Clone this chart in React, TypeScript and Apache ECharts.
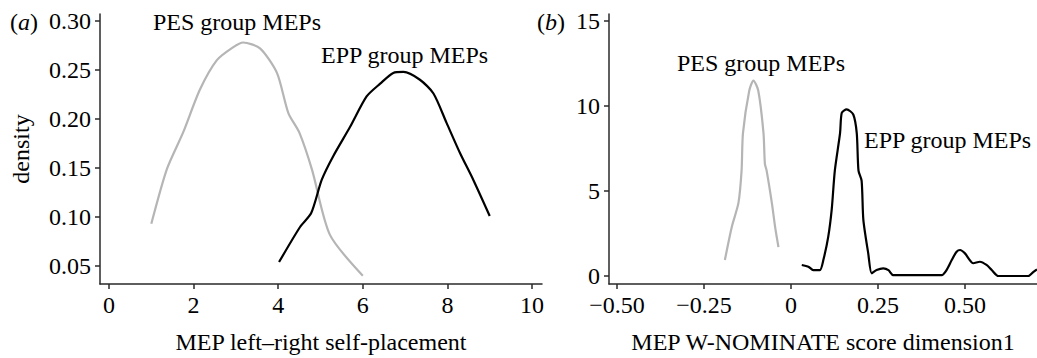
import React, { useEffect, useRef } from "react";
import * as echarts from "echarts";

// Panel (a): MEP left–right self-placement densities
const pesLeftX = [1.0, 1.37, 1.75, 2.15, 2.55, 2.93, 3.17, 3.57, 3.97, 4.24, 4.5, 4.8, 5.22, 6.0];
const pesLeftY = [0.093, 0.149, 0.186, 0.23, 0.26, 0.273, 0.278, 0.272, 0.247, 0.206, 0.186, 0.148, 0.082, 0.04];
const eppLeftX = [4.02, 4.52, 4.78, 5.03, 5.3, 5.7, 6.09, 6.41, 6.72, 6.96, 7.35, 7.67, 7.98, 8.3, 8.61, 9.0];
const eppLeftY = [0.054, 0.09, 0.104, 0.138, 0.162, 0.192, 0.223, 0.236, 0.247, 0.248, 0.24, 0.226, 0.196, 0.165, 0.138, 0.101];
const leftXTicks = [0, 2, 4, 6, 8, 10];
const leftYTicks = [0.05, 0.1, 0.15, 0.2, 0.25, 0.3];

// Panel (b): MEP W-NOMINATE score dimension 1 densities
const pesRightX = [-0.19, -0.17, -0.151, -0.142, -0.138, -0.12, -0.108, -0.094, -0.079, -0.075, -0.07, -0.055, -0.045, -0.036];
const pesRightY = [0.94, 2.9, 4.3, 6.2, 8.4, 10.9, 11.5, 10.9, 8.4, 6.6, 6.2, 4.3, 2.8, 1.7];
const eppRightX = [0.031, 0.05, 0.064, 0.083, 0.093, 0.107, 0.117, 0.126, 0.141, 0.146, 0.16, 0.179, 0.189, 0.194, 0.203, 0.208, 0.222, 0.232, 0.246, 0.265, 0.28, 0.294, 0.433, 0.447, 0.462, 0.476, 0.486, 0.5, 0.524, 0.543, 0.562, 0.577, 0.596, 0.682, 0.697, 0.707];
const eppRightY = [0.65, 0.55, 0.35, 0.35, 0.94, 2.3, 3.9, 6.2, 8.4, 9.6, 9.8, 9.5, 8.4, 6.2, 5.6, 3.3, 1.33, 0.16, 0.35, 0.45, 0.35, 0.05, 0.05, 0.35, 0.94, 1.43, 1.53, 1.33, 0.75, 0.84, 0.65, 0.35, 0.0, 0.0, 0.25, 0.39];
const rightXTicks = [-0.5, -0.25, 0, 0.25, 0.5];
const rightYTicks = [0, 5, 10, 15];

const zip = (xs: number[], ys: number[]) => xs.map((x, i) => [x, ys[i]]);

const FONT = "'Liberation Serif', 'Times New Roman', serif";
const FS = 24;
const AXIS_COLOR = "#2a2a2a";
const GRAY = "#b5b5b5";

function fmtSigned(v: number) {
  if (v === 0) return "0";
  const s = Math.abs(v).toFixed(2);
  return v < 0 ? "\u2212" + s : s;
}

export default function App() {
  const ref = useRef<HTMLDivElement>(null);

  useEffect(() => {
    document.body.style.margin = "0";
    if (!ref.current) return;
    const chart = echarts.init(ref.current, null, { renderer: "svg" });

    const richT = { t: { fontFamily: FONT, fontSize: FS, color: "#000" } };
    const axisCommon = {
      axisLine: { show: true, onZero: false, lineStyle: { color: AXIS_COLOR, width: 1.5 } },
      axisTick: { show: true, length: 5, lineStyle: { color: AXIS_COLOR, width: 1.5 } },
      splitLine: { show: false },
      nameTextStyle: { fontFamily: FONT, fontSize: FS, color: "#000" },
    };
    const labelCommon = { fontFamily: FONT, fontSize: FS, color: "#000", margin: 9, rich: richT };
    const wrap = (s: string) => "{t|" + s + "}";

    const textEl = (text: string, x: number, y: number) => ({
      type: "text",
      x,
      y,
      style: {
        text,
        fontFamily: FONT,
        fontSize: FS,
        fill: "#000",
        verticalAlign: "middle",
        textAlign: "left",
      },
    });
    const panelTag = (letter: string, x: number, y: number) => ({
      type: "text",
      x,
      y,
      style: {
        text: "{p|(}{i|" + letter + "}{p|)}",
        verticalAlign: "middle",
        textAlign: "left",
        rich: {
          p: { fontFamily: FONT, fontSize: FS, fill: "#000" },
          i: { fontFamily: FONT, fontSize: FS, fontStyle: "italic", fill: "#000" },
        },
      },
    });

    const lineSeries = (xi: number, xs: number[], ys: number[], color: string) => ({
      type: "line",
      xAxisIndex: xi,
      yAxisIndex: xi,
      data: zip(xs, ys),
      showSymbol: false,
      smooth: 0.25,
      lineStyle: { color, width: 2.2 },
    });

    chart.setOption({
      animation: false,
      backgroundColor: "#fff",
      textStyle: { fontFamily: FONT, fontSize: FS, color: "#000" },
      grid: [
        { left: 100, top: 14, width: 442, height: 270, containLabel: false, outerBoundsMode: "none" },
        { left: 609, top: 14, width: 428, height: 270, containLabel: false, outerBoundsMode: "none" },
      ],
      xAxis: [
        {
          ...axisCommon,
          type: "value",
          gridIndex: 0,
          min: -0.213,
          max: 10.236,
          name: "MEP left\u2013right self-placement",
          nameLocation: "middle",
          nameGap: 46,
          axisTick: { ...axisCommon.axisTick, customValues: leftXTicks },
          axisLabel: { ...labelCommon, customValues: leftXTicks, formatter: (v: number) => wrap(String(v)) },
        },
        {
          ...axisCommon,
          type: "value",
          gridIndex: 1,
          min: -0.523,
          max: 0.707,
          name: "MEP W-NOMINATE score dimension1",
          nameLocation: "middle",
          nameGap: 46,
          axisTick: { ...axisCommon.axisTick, customValues: rightXTicks },
          axisLabel: { ...labelCommon, customValues: rightXTicks, formatter: (v: number) => wrap(fmtSigned(v)) },
        },
      ],
      yAxis: [
        {
          ...axisCommon,
          type: "value",
          gridIndex: 0,
          min: 0.0316,
          max: 0.3071,
          name: "density",
          nameLocation: "middle",
          nameGap: 67,
          axisTick: { ...axisCommon.axisTick, customValues: leftYTicks },
          axisLabel: { ...labelCommon, customValues: leftYTicks, formatter: (v: number) => wrap(v.toFixed(2)) },
        },
        {
          ...axisCommon,
          type: "value",
          gridIndex: 1,
          min: -0.47,
          max: 15.41,
          axisTick: { ...axisCommon.axisTick, customValues: rightYTicks },
          axisLabel: { ...labelCommon, customValues: rightYTicks, formatter: (v: number) => wrap(String(v)) },
        },
      ],
      series: [
        lineSeries(0, pesLeftX, pesLeftY, GRAY),
        lineSeries(0, eppLeftX, eppLeftY, "#000"),
        lineSeries(1, pesRightX, pesRightY, GRAY),
        lineSeries(1, eppRightX, eppRightY, "#000"),
      ],
      graphic: [
        panelTag("a", 10, 22),
        panelTag("b", 537, 22),
        textEl("PES group MEPs", 153, 22),
        textEl("EPP group MEPs", 321, 55),
        textEl("PES group MEPs", 677, 63),
        textEl("EPP group MEPs", 864, 140),
      ],
    });

    return () => chart.dispose();
  }, []);

  return <div ref={ref} style={{ width: 1037, height: 358 }} />;
}
